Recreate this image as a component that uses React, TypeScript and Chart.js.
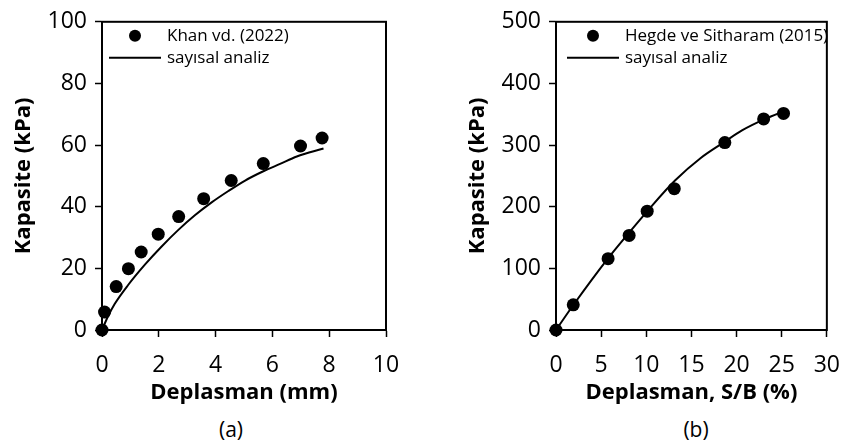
import React, { useEffect, useRef } from "react";
import { Chart, registerables } from "chart.js";

Chart.register(...registerables);

// ---- Data (a) ----
const khanX = [0, 0.09, 0.5, 0.93, 1.38, 1.98, 2.7, 3.58, 4.55, 5.68, 6.99, 7.75];
const khanY = [0, 5.8, 14.1, 19.9, 25.3, 31.1, 36.8, 42.6, 48.5, 54.0, 59.7, 62.3];
const numAX = [0, 0.2, 0.45, 0.92, 1.51, 2.1, 2.68, 3.27, 3.86, 4.45, 5.04, 5.68, 6.27, 6.86, 7.8];
const numAY = [0, 4.2, 8.5, 14.6, 21.2, 27.1, 32.4, 37.2, 41.4, 45.1, 48.5, 51.5, 53.9, 56.3, 58.9];

// ---- Data (b) ----
const hegdeX = [0, 1.91, 5.77, 8.1, 10.1, 13.1, 18.7, 23.0, 25.2];
const hegdeY = [0, 40.9, 115.7, 153.4, 192.7, 229.3, 304.1, 342.4, 351.4];
const numBX = [0, 1.94, 5.74, 8.1, 10.17, 13.18, 16.0, 18.67, 20.6, 23.1, 25.6];
const numBY = [0, 40.9, 115.8, 158, 193.8, 242.5, 278.7, 305.2, 323.7, 342, 357];

// ---- Axes ----
const xRangeA = [0, 10];
const xStepA = 2;
const yRangeA = [0, 100];
const yStepA = 20;
const xRangeB = [0, 30];
const xStepB = 5;
const yRangeB = [0, 500];
const yStepB = 100;

const labelsA = ["Khan vd. (2022)", "sayısal analiz"];
const labelsB = ["Hegde ve Sitharam (2015)", "sayısal analiz"];
const xTitleA = "Deplasman (mm)";
const xTitleB = "Deplasman, S/B (%)";
const yTitle = "Kapasite (kPa)";
const captions = ["(a)", "(b)"];

const FONT = '"Open Sans", "Noto Sans", sans-serif';

const toPts = (xs: number[], ys: number[]) => xs.map((x, i) => ({ x, y: ys[i] }));

const frameAndLegend = {
  id: "frameAndLegend",
  afterDatasetsDraw(chart: any, _args: any, opts: any) {
    const { ctx, chartArea } = chart;
    const { left, top, right, bottom } = chartArea;
    ctx.save();
    ctx.strokeStyle = "#000";
    ctx.lineWidth = 2;
    ctx.strokeRect(left, top, right - left, bottom - top);
    const ds = chart.data.datasets;
    ctx.fillStyle = "#000";
    ctx.font = `17px ${FONT}`;
    ctx.textBaseline = "middle";
    ctx.textAlign = "left";
    ctx.beginPath();
    ctx.arc(left + opts.markerX, top + opts.row1, 6, 0, Math.PI * 2);
    ctx.fill();
    ctx.fillText(ds[0].label, left + opts.textX, top + opts.row1);
    ctx.beginPath();
    ctx.moveTo(left + opts.lineX0, top + opts.row2);
    ctx.lineTo(left + opts.lineX1, top + opts.row2);
    ctx.stroke();
    ctx.fillText(ds[1].label, left + opts.textX, top + opts.row2);
    ctx.restore();
  },
};

function makeConfig(
  pts: { x: number; y: number }[],
  line: { x: number; y: number }[],
  labels: string[],
  xRange: number[],
  xStep: number,
  yRange: number[],
  yStep: number,
  xTitle: string,
  yAxisWidth: number,
  yTitlePad: number,
  rightPad: number,
  legendOpts: any
): any {
  return {
    type: "scatter",
    data: {
      datasets: [
        {
          label: labels[0],
          data: pts,
          showLine: false,
          pointRadius: 6.5,
          pointBackgroundColor: "#000",
          pointBorderColor: "#000",
          pointBorderWidth: 0,
          clip: false,
          order: 1,
        },
        {
          label: labels[1],
          data: line,
          showLine: true,
          pointRadius: 0,
          borderColor: "#000",
          borderWidth: 2,
          cubicInterpolationMode: "monotone",
          clip: false,
          order: 2,
        },
      ],
    },
    options: {
      responsive: false,
      animation: false,
      devicePixelRatio: 1,
      layout: { padding: { left: 0, top: 16, right: rightPad, bottom: 0 } },
      plugins: {
        legend: { display: false },
        tooltip: { enabled: false },
        frameAndLegend: legendOpts,
      },
      scales: {
        x: {
          type: "linear",
          min: xRange[0],
          max: xRange[1],
          ticks: {
            stepSize: xStep,
            color: "#000",
            font: { family: FONT, size: 23 },
            padding: 15,
            maxRotation: 0,
          },
          grid: {
            display: true,
            drawOnChartArea: false,
            drawTicks: true,
            tickLength: 7,
            tickColor: "#000",
            tickWidth: 1.5,
          },
          border: { display: true, color: "#000", width: 2 },
          title: {
            display: true,
            text: xTitle,
            color: "#000",
            font: { family: FONT, size: 22, weight: "bold" },
            padding: { top: 0, bottom: 4 },
          },
          afterFit: (s: any) => {
            s.height = 80;
          },
        },
        y: {
          type: "linear",
          min: yRange[0],
          max: yRange[1],
          ticks: {
            stepSize: yStep,
            color: "#000",
            font: { family: FONT, size: 23 },
            padding: 8,
          },
          grid: {
            display: true,
            drawOnChartArea: false,
            drawTicks: true,
            tickLength: 7,
            tickColor: "#000",
            tickWidth: 1.5,
          },
          border: { display: true, color: "#000", width: 2 },
          title: {
            display: true,
            text: yTitle,
            color: "#000",
            font: { family: FONT, size: 22, weight: "bold" },
            padding: { top: yTitlePad, bottom: 0 },
          },
          afterFit: (s: any) => {
            s.width = yAxisWidth;
          },
        },
      },
    },
    plugins: [frameAndLegend],
  };
}

export default function App() {
  const refA = useRef<HTMLCanvasElement>(null);
  const refB = useRef<HTMLCanvasElement>(null);

  useEffect(() => {
    const a = new Chart(
      refA.current as HTMLCanvasElement,
      makeConfig(
        toPts(khanX, khanY),
        toPts(numAX, numAY),
        labelsA,
        xRangeA,
        xStepA,
        yRangeA,
        yStepA,
        xTitleA,
        102,
        10.8,
        39,
        { markerX: 33, textX: 65, row1: 14, row2: 36, lineX0: 7, lineX1: 59 }
      )
    );
    const b = new Chart(
      refB.current as HTMLCanvasElement,
      makeConfig(
        toPts(hegdeX, hegdeY),
        toPts(numBX, numBY),
        labelsB,
        xRangeB,
        xStepB,
        yRangeB,
        yStepB,
        xTitleB,
        126,
        34.5,
        17,
        { markerX: 37, textX: 69, row1: 14, row2: 36, lineX0: 11, lineX1: 63 }
      )
    );
    return () => {
      a.destroy();
      b.destroy();
    };
  }, []);

  const capStyle: React.CSSProperties = {
    position: "absolute",
    top: 415,
    width: 80,
    textAlign: "center",
    fontFamily: FONT,
    fontSize: 21,
    lineHeight: "28px",
    color: "#000",
  };

  return (
    <div
      style={{
        position: "fixed",
        left: 0,
        top: 0,
        width: 855,
        height: 447,
        background: "#fff",
        overflow: "hidden",
      }}
    >
      <canvas
        ref={refA}
        width={425}
        height={410}
        style={{ position: "absolute", left: 0, top: 0 }}
      />
      <canvas
        ref={refB}
        width={425}
        height={410}
        style={{ position: "absolute", left: 430, top: 0 }}
      />
      <div style={{ ...capStyle, left: 231 - 40 }}>{captions[0]}</div>
      <div style={{ ...capStyle, left: 696 - 40 }}>{captions[1]}</div>
    </div>
  );
}
